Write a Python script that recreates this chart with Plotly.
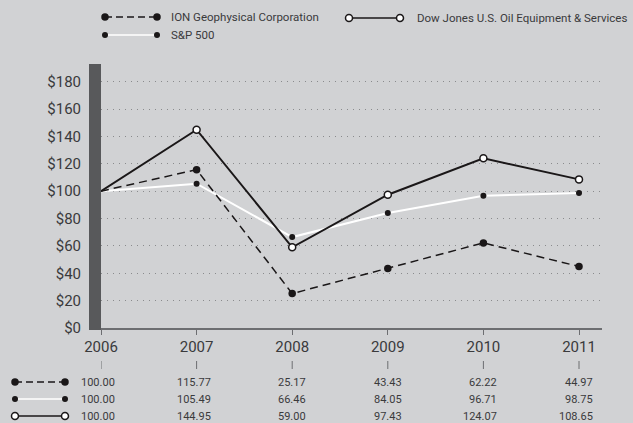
import plotly.graph_objects as go

# ---------------- data ----------------
years = [2006, 2007, 2008, 2009, 2010, 2011]
year_labels = ["2006", "2007", "2008", "2009", "2010", "2011"]
ion = [100.00, 115.77, 25.17, 43.43, 62.22, 44.97]
sp500 = [100.00, 105.49, 66.46, 84.05, 96.71, 98.75]
dowjones = [100.00, 144.95, 59.00, 97.43, 124.07, 108.65]
y_ticks = [0, 20, 40, 60, 80, 100, 120, 140, 160, 180]
y_tick_labels = ["$0", "$20", "$40", "$60", "$80", "$100", "$120", "$140", "$160", "$180"]
name_ion = "ION Geophysical Corporation"
name_dow = "Dow Jones U.S. Oil Equipment & Services"
name_sp = "S&P 500"

# ---------------- layout constants ----------------
W, H = 633, 423
L, R, T, B = 101, 31, 64, 95
PW, PH = W - L - R, H - T - B
BG = "#d1d2d4"
INK = "#1a1718"
TXT = "#3a3a3c"
AXIS = "#6d6e71"
FONT = "Roboto"


def px(x):
    return (x - L) / PW


def py(y):
    return (T + PH - y) / PH


styles = {
    "ion": dict(line=dict(color=INK, width=1.5, dash="8px,5px"),
                mfill=INK, mline=INK, mlw=0, size=7.5),
    "sp": dict(line=dict(color="#ffffff", width=2),
               mfill=INK, mline=INK, mlw=0, size=6),
    "dow": dict(line=dict(color=INK, width=2),
                mfill="#ffffff", mline=INK, mlw=1.5, size=7),
}

fig = go.Figure()


def add_series(yvals, key, name):
    st = styles[key]
    sizes = [0] + [st["size"]] * (len(yvals) - 1)
    fig.add_trace(go.Scatter(
        x=years, y=yvals, mode="lines+markers", name=name,
        line=st["line"],
        marker=dict(size=sizes, color=st["mfill"], opacity=1,
                    line=dict(color=st["mline"], width=st["mlw"])),
        cliponaxis=False, showlegend=False, hoverinfo="skip",
    ))


add_series(sp500, "sp", name_sp)
add_series(ion, "ion", name_ion)
add_series(dowjones, "dow", name_dow)

shapes = []
annotations = []

# dark vertical bar at left of plot
shapes.append(dict(type="rect", xref="paper", yref="paper",
                   x0=px(89), x1=px(101), y0=py(330), y1=1,
                   fillcolor="#58595b", line=dict(width=0)))


def symbol(xa, xb, y, key):
    st = styles[key]
    ln = dict(st["line"])
    ln["width"] = 1.5
    if "dash" in ln:
        ln["dash"] = "7px,4px"
    shapes.append(dict(type="line", xref="paper", yref="paper",
                       x0=px(xa), x1=px(xb), y0=py(y), y1=py(y), line=ln))
    r = st["size"] / 2
    for xx in (xa, xb):
        shapes.append(dict(type="circle", xref="paper", yref="paper",
                           xsizemode="pixel", ysizemode="pixel",
                           xanchor=px(xx), yanchor=py(y),
                           x0=-r, x1=r, y0=-r, y1=r,
                           fillcolor=st["mfill"],
                           line=dict(color=st["mline"], width=st["mlw"] if st["mlw"] else 0)))


# legend
symbol(105, 157, 17, "ion")
symbol(105, 157, 35, "sp")
symbol(349, 400, 18, "dow")
for text, x, y in [(name_ion, 169, 17), (name_sp, 169, 35), (name_dow, 415, 18)]:
    annotations.append(dict(text=text, xref="paper", yref="paper",
                            x=px(x), y=py(y), xanchor="left", yanchor="middle",
                            showarrow=False, font=dict(size=11.5, color=TXT, family=FONT)))

# small marks under year labels
for yr in years:
    shapes.append(dict(type="line", xref="x", yref="paper", x0=yr, x1=yr,
                       y0=py(361), y1=py(369), line=dict(color=AXIS, width=1)))

# data table
rows = [(ion, "ion", 382), (sp500, "sp", 399), (dowjones, "dow", 416)]
for vals, key, y in rows:
    symbol(15, 65, y, key)
    for yr, v in zip(years, vals):
        annotations.append(dict(text=f"{v:.2f}", xref="x", yref="paper",
                                x=yr, y=py(y), xanchor="right", yanchor="middle",
                                xshift=16, showarrow=False,
                                font=dict(size=11, color=TXT, family=FONT)))

fig.update_layout(
    width=W, height=H,
    margin=dict(l=L, r=R, t=T, b=B, pad=0),
    paper_bgcolor=BG, plot_bgcolor=BG,
    font=dict(family=FONT, color=TXT),
    showlegend=False, hovermode=False,
    shapes=shapes, annotations=annotations,
    xaxis=dict(range=[2006, 2011 + 23 / 95.6], tickvals=years, ticktext=year_labels,
               showgrid=False, zeroline=False, showline=True, linecolor=AXIS, linewidth=2,
               ticks="outside", ticklen=5, tickcolor=AXIS, tickwidth=1,
               ticklabelstandoff=-1, tickfont=dict(size=15, color=TXT, family=FONT)),
    yaxis=dict(range=[0, 193], tickvals=y_ticks, ticktext=y_tick_labels,
               showgrid=True, gridcolor="#8a8b8d", gridwidth=1.2, griddash="1px,5px",
               zeroline=False, showline=False, ticks="",
               ticklabelstandoff=19, tickfont=dict(size=15, color=TXT, family=FONT)),
)

fig.write_html("out.html", config={"displayModeBar": False},
               post_script="document.body.style.margin='0';document.body.style.background='#d1d2d4';")
